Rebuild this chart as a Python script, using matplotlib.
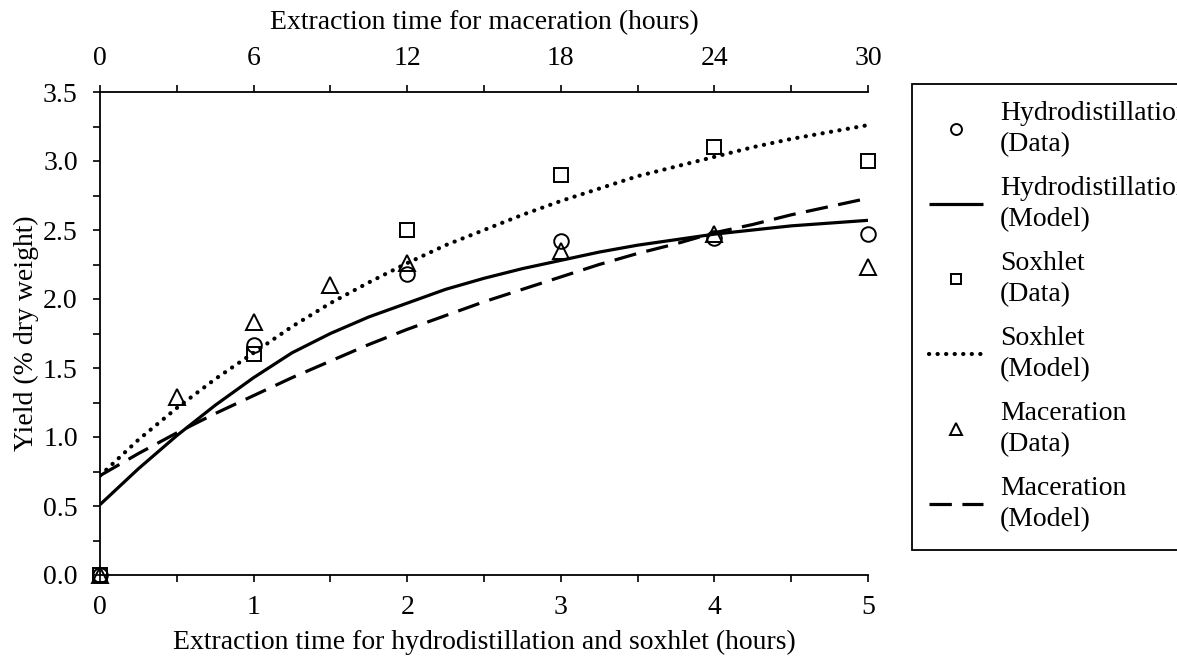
import matplotlib
matplotlib.use("Agg")
import matplotlib.pyplot as plt
from matplotlib.ticker import MultipleLocator, FormatStrFormatter

plt.rcParams['font.family'] = ['Liberation Serif', 'DejaVu Serif']

# ---- data ----
t_data = [0, 1, 2, 3, 4, 5]                       # hours (hydrodistillation / soxhlet axis)
hydro_data = [0.0, 1.67, 2.18, 2.42, 2.44, 2.47]
soxhlet_data = [0.0, 1.60, 2.50, 2.90, 3.10, 3.00]

t_mac_data = [0, 0.5, 1, 1.5, 2, 3, 4, 5]         # bottom-axis equivalent of maceration hours
mac_data = [0.0, 1.29, 1.83, 2.10, 2.26, 2.35, 2.47, 2.23]

t_model = [0, 0.25, 0.5, 0.75, 1, 1.25, 1.5, 1.75, 2, 2.25, 2.5,
           2.75, 3, 3.25, 3.5, 3.75, 4, 4.25, 4.5, 4.75, 5]
hydro_model = [0.51, 0.77, 1.01, 1.23, 1.43, 1.61, 1.75, 1.87, 1.97, 2.07, 2.15,
               2.22, 2.28, 2.34, 2.39, 2.43, 2.47, 2.50, 2.53, 2.55, 2.57]
soxhlet_model = [0.72, 0.98, 1.21, 1.42, 1.61, 1.80, 1.97, 2.12, 2.26, 2.39, 2.50,
                 2.61, 2.71, 2.80, 2.89, 2.96, 3.03, 3.10, 3.16, 3.21, 3.26]
mac_model = [0.72, 0.88, 1.03, 1.17, 1.30, 1.43, 1.55, 1.67, 1.78, 1.88, 1.98,
             2.07, 2.16, 2.25, 2.33, 2.40, 2.48, 2.54, 2.61, 2.67, 2.73]

xlabel_bottom = "Extraction time for hydrodistillation and soxhlet (hours)"
xlabel_top = "Extraction time for maceration (hours)"
ylabel = "Yield (% dry weight)"

FS = 20
W, H = 1177, 660
fig = plt.figure(figsize=(W / 100, H / 100), dpi=100)
ax = fig.add_axes([100 / W, 1 - 575 / H, 768 / W, (575 - 92) / H])

mew = 1.4
l1, = ax.plot(t_data, hydro_data, linestyle='none', marker='o', markersize=10.5,
              markerfacecolor='none', markeredgecolor='black', markeredgewidth=mew,
              clip_on=False, zorder=5, label="Hydrodistillation\n(Data)")
l2, = ax.plot(t_model, hydro_model, color='black', lw=2.3, solid_capstyle='butt',
              label="Hydrodistillation\n(Model)")
l3, = ax.plot(t_data, soxhlet_data, linestyle='none', marker='s', markersize=10,
              markerfacecolor='none', markeredgecolor='black', markeredgewidth=mew,
              clip_on=False, zorder=5, label="Soxhlet\n(Data)")
l4, = ax.plot(t_model, soxhlet_model, color='black', lw=3.0,
              linestyle=(0, (0.05, 2.0)), dash_capstyle='round',
              label="Soxhlet\n(Model)")
l5, = ax.plot(t_mac_data, mac_data, linestyle='none', marker='^', markersize=12,
              markerfacecolor='none', markeredgecolor='black', markeredgewidth=mew,
              clip_on=False, zorder=5, label="Maceration\n(Data)")
l6, = ax.plot(t_model, mac_model, color='black', lw=2.3,
              linestyle=(0, (7.0, 3.3)), dash_capstyle='butt',
              label="Maceration\n(Model)")

ax.set_xlim(0, 5)
ax.set_ylim(0, 3.5)
ax.xaxis.set_major_locator(MultipleLocator(1))
ax.xaxis.set_minor_locator(MultipleLocator(0.5))
ax.yaxis.set_major_locator(MultipleLocator(0.5))
ax.yaxis.set_minor_locator(MultipleLocator(0.25))
ax.yaxis.set_major_formatter(FormatStrFormatter('%.1f'))
ax.tick_params(axis='both', which='both', direction='out', length=5, width=1.2,
               labelsize=FS)
ax.tick_params(axis='x', which='both', pad=9.5)
ax.tick_params(axis='y', which='both', pad=11)
ax.spines['right'].set_visible(False)
ax.spines['top'].set_visible(False)
for s in ('left', 'bottom'):
    ax.spines[s].set_linewidth(1.3)

ax2 = ax.twiny()
ax2.set_xlim(0, 30)
ax2.xaxis.set_major_locator(MultipleLocator(6))
ax2.xaxis.set_minor_locator(MultipleLocator(3))
ax2.tick_params(axis='x', which='both', direction='out', length=5, width=1.2,
                labelsize=FS, pad=10)
for s in ('left', 'right', 'bottom'):
    ax2.spines[s].set_visible(False)
ax2.spines['top'].set_linewidth(1.3)

ax.set_xlabel(xlabel_bottom, fontsize=FS, labelpad=7)
ax2.set_xlabel(xlabel_top, fontsize=FS, labelpad=12)
ax.set_ylabel(ylabel, fontsize=FS, labelpad=3)

leg = fig.legend(handles=[l1, l2, l3, l4, l5, l6], loc='upper left',
                 bbox_to_anchor=(912 / W, 1 - 84 / H), bbox_transform=fig.transFigure,
                 borderaxespad=0, fontsize=FS, frameon=True, fancybox=False,
                 edgecolor='black', framealpha=1, markerscale=0.75,
                 handlelength=1.95, handletextpad=0.6, borderpad=0.62,
                 labelspacing=0.68)
for txt in leg.get_texts():
    txt.set_linespacing(1.32)
leg.get_frame().set_linewidth(1.3)

fig.savefig("out.png", dpi=100)
